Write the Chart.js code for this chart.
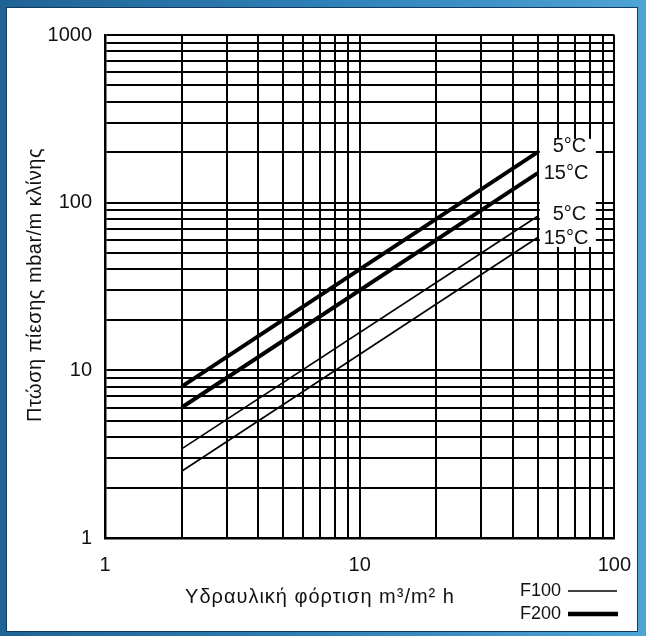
<!DOCTYPE html>
<html>
<head>
<meta charset="utf-8">
<script src="https://cdn.jsdelivr.net/npm/chart.js@4/dist/chart.umd.min.js"></script>
<style>
  html, body { margin: 0; padding: 0; overflow: hidden; }
  body {
    width: 646px; height: 636px;
    background: linear-gradient(90deg, #1f6394 0%, #2f80b8 50%, #4ea4d6 100%);
    position: relative;
  }
  #paper {
    position: absolute; left: 6px; top: 7px; width: 630px; height: 623px;
    background: #fff; border: 1px solid #123a5c;
  }
  #wrap { position: absolute; left: 0; top: 0; width: 646px; height: 636px; }
</style>
</head>
<body>
<div id="paper"></div>
<div id="wrap"><canvas id="lossChart"></canvas></div>
<script>
// hydraulic load (m3/m2 h) at the two ends of each line
const loadX = [2, 50];
// pressure drop (mbar/m bed)
const f200At5 = [8, 200];
const f200At15 = [6, 150];
const f100At5 = [3.4, 83];
const f100At15 = [2.5, 62];

const xTickValues = [1, 2, 3, 4, 5, 6, 7, 8, 9, 10, 20, 30, 40, 50, 60, 70, 80, 90, 100];
const yTickValues = [1, 2, 3, 4, 5, 6, 7, 8, 9, 10, 20, 30, 40, 50, 60, 70, 80, 90,
  100, 200, 300, 400, 500, 600, 700, 800, 900, 1000];
const xLabels = [1, 10, 100];
const yLabels = [1, 10, 100, 1000];

const seriesLabels = ['F200 5°C', 'F200 15°C', 'F100 5°C', 'F100 15°C'];
const curveTags = ['5°C', '15°C', '5°C', '15°C'];
const tagShift = [-6, 0, -2, 1];

const FONT = '"Liberation Sans", Arial, sans-serif';

function toPoints(ys) {
  return loadX.map((x, i) => ({ x: x, y: ys[i] }));
}

// titles, legend and curve tags drawn on top of the plot
const extras = {
  id: 'extras',
  afterDraw(chart) {
    const c = chart.ctx;
    const xs = chart.scales.x, ys = chart.scales.y;
    c.save();

    // white patch behind curve tags
    const top = ys.getPixelForValue(240);
    c.fillStyle = '#fff';
    c.fillRect(xs.getPixelForValue(51), top, 56, 108);

    c.fillStyle = '#111';
    c.font = '20px ' + FONT;
    c.textAlign = 'left';
    c.textBaseline = 'middle';
    chart.data.datasets.forEach((ds, i) => {
      const last = ds.data[ds.data.length - 1];
      const px = xs.getPixelForValue(last.x);
      const py = ys.getPixelForValue(last.y);
      const tag = curveTags[i];
      c.fillText(tag, tag.length > 3 ? px + 6 : px + 15, py + tagShift[i]);
    });

    // axis titles
    c.textAlign = 'center';
    c.letterSpacing = '1px';
    c.fillText('Υδραυλική φόρτιση m³/m² h', 320, 597);
    c.save();
    c.translate(35, 285);
    c.rotate(-Math.PI / 2);
    c.letterSpacing = '0.5px';
    c.fillText('Πτώση πίεσης mbar/m κλίνης', 0, 0);
    c.restore();
    c.letterSpacing = '0px';

    // legend
    c.font = '18px ' + FONT;
    c.textAlign = 'left';
    c.fillText('F100', 520, 591);
    c.fillText('F200', 520, 614);
    c.strokeStyle = '#000';
    c.lineWidth = 1.5;
    c.beginPath(); c.moveTo(568, 591); c.lineTo(617, 591); c.stroke();
    c.lineWidth = 4.5;
    c.beginPath(); c.moveTo(568, 614); c.lineTo(618, 614); c.stroke();
    c.restore();
  }
};

new Chart(document.getElementById('lossChart').getContext('2d'), {
  type: 'line',
  data: {
    datasets: [
      { label: seriesLabels[0], data: toPoints(f200At5), borderWidth: 4 },
      { label: seriesLabels[1], data: toPoints(f200At15), borderWidth: 4 },
      { label: seriesLabels[2], data: toPoints(f100At5), borderWidth: 1.6 },
      { label: seriesLabels[3], data: toPoints(f100At15), borderWidth: 1.6 }
    ].map(ds => Object.assign(ds, { borderColor: '#000', pointRadius: 0, fill: false, tension: 0 }))
  },
  options: {
    responsive: true,
    maintainAspectRatio: false,
    animation: false,
    layout: { padding: { top: 35, right: 31, left: 0, bottom: 0 } },
    plugins: { legend: { display: false }, tooltip: { enabled: false } },
    scales: {
      x: {
        type: 'logarithmic',
        min: 1, max: 100,
        afterBuildTicks: s => { s.ticks = xTickValues.map(v => ({ value: v })); },
        afterFit: s => { s.height = 98; },
        grid: { color: '#000', lineWidth: 2, drawTicks: false },
        border: { color: '#000', width: 2.5 },
        ticks: {
          autoSkip: false, maxRotation: 0, padding: 15, color: '#111',
          font: { family: FONT, size: 20 },
          callback: v => xLabels.includes(v) ? String(v) : ''
        }
      },
      y: {
        type: 'logarithmic',
        min: 1, max: 1000,
        afterBuildTicks: s => { s.ticks = yTickValues.map(v => ({ value: v })); },
        afterFit: s => { s.width = 105; },
        grid: { color: '#000', lineWidth: 2, drawTicks: false },
        border: { color: '#000', width: 2.5 },
        ticks: {
          autoSkip: false, padding: 13, color: '#111',
          font: { family: FONT, size: 20 },
          callback: v => yLabels.includes(v) ? String(v) : ''
        }
      }
    }
  },
  plugins: [extras]
});
</script>
</body>
</html>
